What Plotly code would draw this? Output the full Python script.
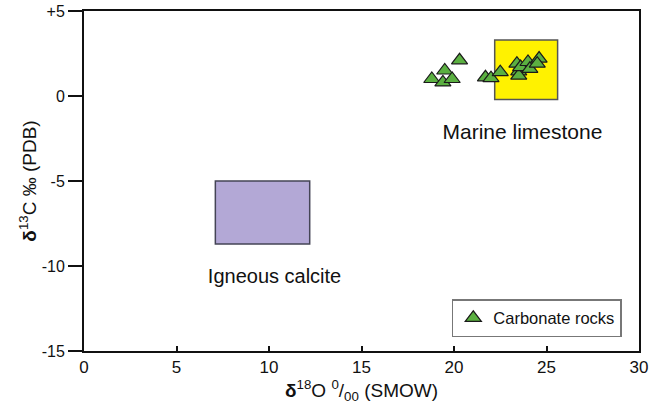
import plotly.graph_objects as go

# Carbonate rock samples (δ18O SMOW, δ13C PDB)
d18O = [18.8, 19.4, 19.5, 19.9, 20.3, 21.7, 22.0, 22.5, 23.4, 23.5, 23.5, 23.6, 24.0, 24.1, 24.6, 24.5]
d13C = [1.0, 0.8, 1.5, 1.0, 2.1, 1.1, 1.05, 1.4, 1.9, 1.45, 1.2, 1.7, 2.0, 1.6, 2.2, 1.9]

# Reference fields
marine_x = [22.2, 25.6]
marine_y = [-0.2, 3.3]
igneous_x = [7.1, 12.2]
igneous_y = [-8.7, -5.0]

field_labels = ["Marine limestone", "Igneous calcite"]
field_label_x = [23.7, 10.3]
field_label_y = [-2.2, -10.7]

x_ticks = [0, 5, 10, 15, 20, 25, 30]
y_ticks = [-15, -10, -5, 0, 5]
y_tick_text = ["-15", "-10", "-5", "0", "+5"]

FONT = "Liberation Sans, Arial, sans-serif"

fig = go.Figure()

fig.add_shape(type="rect", x0=marine_x[0], x1=marine_x[1], y0=marine_y[0], y1=marine_y[1],
              fillcolor="#FFF200", line=dict(color="#555555", width=1.5), layer="below")
fig.add_shape(type="rect", x0=igneous_x[0], x1=igneous_x[1], y0=igneous_y[0], y1=igneous_y[1],
              fillcolor="#B3A8D6", line=dict(color="#444455", width=1.5), layer="below")

fig.add_trace(go.Scatter(
    x=d18O, y=d13C, mode="markers", name="Carbonate rocks",
    marker=dict(symbol="triangle-up", size=14, color="#5BB041",
                line=dict(color="#1a1a1a", width=1.2)),
))

fig.add_trace(go.Scatter(
    x=field_label_x, y=field_label_y, mode="text", text=field_labels,
    textfont=dict(family=FONT, size=[21, 20], color="#111111"),
    showlegend=False, hoverinfo="skip",
))

fig.update_layout(
    width=657, height=408,
    margin=dict(l=84, r=18, t=11, b=57),
    paper_bgcolor="white", plot_bgcolor="white",
    font=dict(family=FONT, size=16, color="#111111"),
    showlegend=True,
    legend=dict(x=0.969, y=0.041, xanchor="right", yanchor="bottom",
                bgcolor="white", bordercolor="#777777", borderwidth=1.5,
                font=dict(size=16.5), itemwidth=30, tracegroupgap=0),
    xaxis=dict(range=[0, 30], tickvals=x_ticks, ticks="inside", ticklen=5,
               tickwidth=1.5, tickcolor="#111111", automargin="bottom",
               tickfont=dict(size=17),
               showline=True, linecolor="#111111", linewidth=2, mirror=True,
               showgrid=False, zeroline=False,
               title=dict(text="<b>δ</b><sup>18</sup>O <sup>0</sup>/<sub>00</sub> (SMOW)",
                          font=dict(size=19), standoff=0)),
    yaxis=dict(range=[-15, 5], tickvals=y_ticks, ticktext=y_tick_text,
               ticks="outside", ticklen=14, tickwidth=1.5, tickcolor="#111111",
               automargin="left", ticklabeloverflow="allow",
               showline=True, linecolor="#111111", linewidth=2, mirror=True,
               showgrid=False, zeroline=False,
               title=dict(text="<b>δ</b><sup>13</sup>C ‰ (PDB)",
                          font=dict(size=19), standoff=0)),
)

fig.write_html("out.html", config={"displayModeBar": False},
               post_script="document.body.style.margin='0px';")
